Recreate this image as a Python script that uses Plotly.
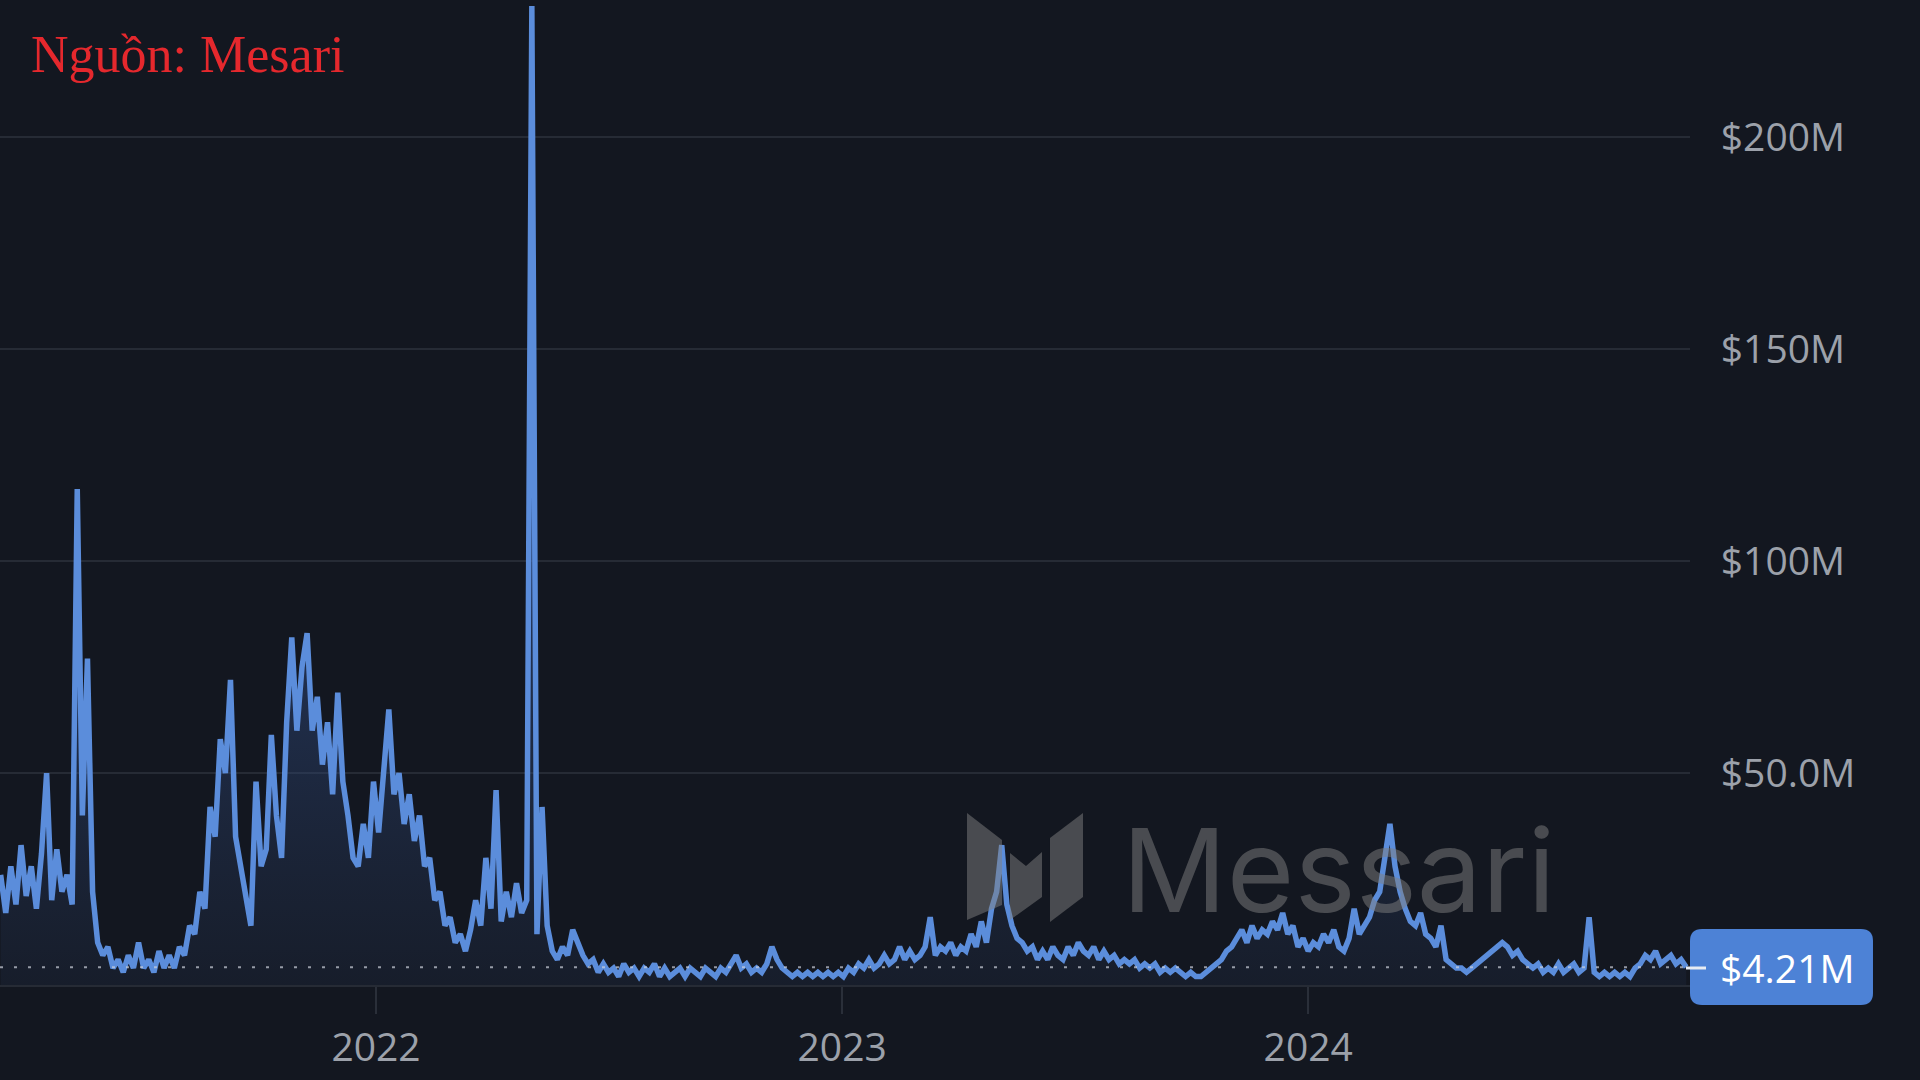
import plotly.graph_objects as go
import pandas as pd

# ---- data (USD millions), one reading every 4 days from 2021-03-13 ----
start_date = "2021-03-13"
step_days = 4
volume_m = [
    26, 17, 28, 19, 33, 21, 28, 18, 31, 50,
    20, 32, 22, 26, 19, 117, 40, 77, 22, 10,
    7, 9, 4, 6, 3, 7, 4, 10, 4, 6,
    3, 8, 4, 7, 4, 9, 7, 14, 12, 22,
    18, 42, 35, 58, 50, 72, 35, 28, 20, 14,
    48, 28, 32, 59, 40, 30, 62, 82, 60, 75,
    83, 60, 68, 52, 62, 45, 69, 48, 40, 30,
    28, 38, 30, 48, 36, 52, 65, 45, 50, 38,
    45, 34, 40, 28, 30, 20, 22, 14, 16, 10,
    12, 8, 13, 20, 14, 30, 18, 46, 15, 22,
    16, 24, 17, 20, 231, 12, 42, 14, 8, 6,
    9, 7, 13, 10, 7, 5, 6, 3, 5, 3,
    4, 2, 5, 3, 4, 2, 4, 3, 5, 2,
    4, 2, 3, 4, 2, 4, 3, 2, 4, 3,
    2, 4, 3, 5, 7, 4, 5, 3, 4, 3,
    5, 9, 6, 4, 3, 2, 3, 2, 3, 2,
    3, 2, 3, 2, 3, 2, 4, 3, 5, 4,
    6, 4, 5, 7, 5, 6, 9, 6, 8, 6,
    7, 9, 16, 7, 9, 8, 10, 7, 9, 8,
    12, 9, 15, 10, 18, 22, 33, 19, 14, 11,
    10, 8, 9, 6, 8, 6, 9, 7, 6, 9,
    7, 10, 8, 7, 9, 6, 8, 6, 7, 5,
    6, 5, 6, 4, 5, 4, 5, 3, 4, 3,
    4, 3, 2, 3, 2, 2, 3, 4, 5, 6,
    8, 9, 11, 13, 10, 14, 11, 13, 12, 15,
    13, 17, 12, 14, 9, 11, 8, 10, 9, 12,
    10, 13, 9, 8, 11, 18, 12, 14, 16, 20,
    22, 30, 38, 28, 22, 18, 15, 14, 17, 12,
    11, 9, 14, 6, 5, 4, 4, 3, 4, 5,
    6, 7, 8, 9, 10, 9, 7, 8, 6, 5,
    4, 5, 3, 4, 3, 5, 3, 4, 5, 3,
    4, 16, 3, 2, 3, 2, 3, 2, 3, 2,
    4, 5, 7, 6, 8, 5, 6, 7, 5, 6,
    4.21,
]
last_value_label = "$4.21M"
year_ticks = ["2022-01-01", "2023-01-01", "2024-01-01"]
year_labels = ["2022", "2023", "2024"]
y_ticks = [50, 100, 150, 200]
y_labels = ["$50.0M", "$100M", "$150M", "$200M"]
source_text = "Nguồn: Mesari"
watermark_text = "Messari"

dates = pd.date_range(start=start_date, periods=len(volume_m), freq=f"{step_days}D")

# ---- layout geometry (pixels) ----
W, H = 1920, 1080
PLOT_R = 1690       # right edge of plot area
PLOT_B = 985        # bottom edge of plot area
BG = "#131720"
GRID = "#262b35"
LINE = "#5b8ddb"
TICKFONT = "#9ca1aa"


def pp(x, y):
    """pixel -> paper coordinates"""
    return x / PLOT_R, (PLOT_B - y) / PLOT_B


def poly_path(points):
    s = ""
    for i, (x, y) in enumerate(points):
        px_, py_ = pp(x, y)
        s += ("M" if i == 0 else "L") + f"{px_:.5f},{py_:.5f} "
    return s + "Z"


def rounded_rect(x0, y0, x1, y1, r):
    def P(x, y):
        a, b = pp(x, y)
        return f"{a:.5f},{b:.5f}"
    s = f"M{P(x0 + r, y0)} L{P(x1 - r, y0)} Q{P(x1, y0)} {P(x1, y0 + r)} "
    s += f"L{P(x1, y1 - r)} Q{P(x1, y1)} {P(x1 - r, y1)} "
    s += f"L{P(x0 + r, y1)} Q{P(x0, y1)} {P(x0, y1 - r)} "
    s += f"L{P(x0, y0 + r)} Q{P(x0, y0)} {P(x0 + r, y0)} Z"
    return s


fig = go.Figure()
fig.add_trace(go.Scatter(
    x=dates, y=volume_m, mode="lines",
    line=dict(color=LINE, width=5.5, shape="linear"),
    fill="tozeroy",
    fillgradient=dict(
        type="vertical", start=0, stop=90,
        colorscale=[[0, "rgba(45,65,105,0.15)"], [1, "rgba(50,80,140,0.5)"]],
    ),
    hoverinfo="skip", showlegend=False,
))

shapes = []
# dotted last-value line
shapes.append(dict(type="line", xref="paper", yref="y", x0=0, x1=1, y0=volume_m[-1], y1=volume_m[-1],
                   line=dict(color="rgba(205,210,220,0.7)", width=2, dash="3px,11px"), layer="above"))
# watermark logo
wm = "rgba(128,128,128,0.5)"
shapes.append(dict(type="path", xref="paper", yref="paper", layer="above", line=dict(width=0), fillcolor=wm,
                   path=poly_path([(967, 813), (1002, 840), (1002, 905), (967, 920)])))
shapes.append(dict(type="path", xref="paper", yref="paper", layer="above", line=dict(width=0), fillcolor=wm,
                   path=poly_path([(1010, 853), (1026, 866), (1042, 852), (1042, 897), (1010, 920)])))
shapes.append(dict(type="path", xref="paper", yref="paper", layer="above", line=dict(width=0), fillcolor=wm,
                   path=poly_path([(1050, 838), (1083, 813), (1083, 897), (1050, 922)])))
# last value badge
shapes.append(dict(type="path", xref="paper", yref="paper", layer="above", line=dict(width=0),
                   fillcolor="#4d82d6", path=rounded_rect(1690, 929, 1873, 1005, 12)))
lx0, ly = pp(1686, 968)
lx1, _ = pp(1706, 968)
shapes.append(dict(type="line", xref="paper", yref="paper", x0=lx0, x1=lx1, y0=ly, y1=ly,
                   line=dict(color="#e8ecf3", width=3), layer="above"))

annotations = []
ax, ay = pp(1718, 967)
annotations.append(dict(xref="paper", yref="paper", x=ax, y=ay, xanchor="left", yanchor="middle",
                        text=last_value_label, showarrow=False,
                        font=dict(family="Open Sans", size=39, color="#ffffff")))
wx, wy = pp(1120, 870)
annotations.append(dict(xref="paper", yref="paper", x=wx, y=wy, xanchor="left", yanchor="middle",
                        text=watermark_text, showarrow=False,
                        font=dict(family="Inter", size=116, color=wm)))
sx, sy = pp(29, 55)
annotations.append(dict(xref="paper", yref="paper", x=sx, y=sy, xanchor="left", yanchor="middle",
                        text=source_text, showarrow=False,
                        font=dict(family="Liberation Serif", size=52, color="#e5282d")))

fig.update_layout(
    width=W, height=H,
    margin=dict(l=0, r=W - PLOT_R, t=0, b=H - PLOT_B, pad=0),
    paper_bgcolor=BG, plot_bgcolor=BG,
    shapes=shapes, annotations=annotations,
    showlegend=False,
    xaxis=dict(
        type="date", range=["2021-03-12 12:00", "2024-10-26"],
        tickvals=year_ticks, ticktext=year_labels,
        showgrid=False, zeroline=False,
        showline=True, linecolor=GRID, linewidth=2,
        ticks="outside", ticklen=27, tickwidth=2, tickcolor="#2a2f39",
        tickfont=dict(family="Open Sans", size=39, color=TICKFONT),
    ),
    yaxis=dict(
        side="right", range=[0, 232.4],
        tickvals=y_ticks, ticktext=y_labels,
        showgrid=True, gridcolor=GRID, gridwidth=2,
        zeroline=False, showline=False,
        ticks="outside", ticklen=22, tickcolor="rgba(0,0,0,0)",
        tickfont=dict(family="Open Sans", size=39, color=TICKFONT),
    ),
)

fig.write_html("out.html", config={"displayModeBar": False},
               post_script="document.body.style.margin='0';document.body.style.background='" + BG + "';")
